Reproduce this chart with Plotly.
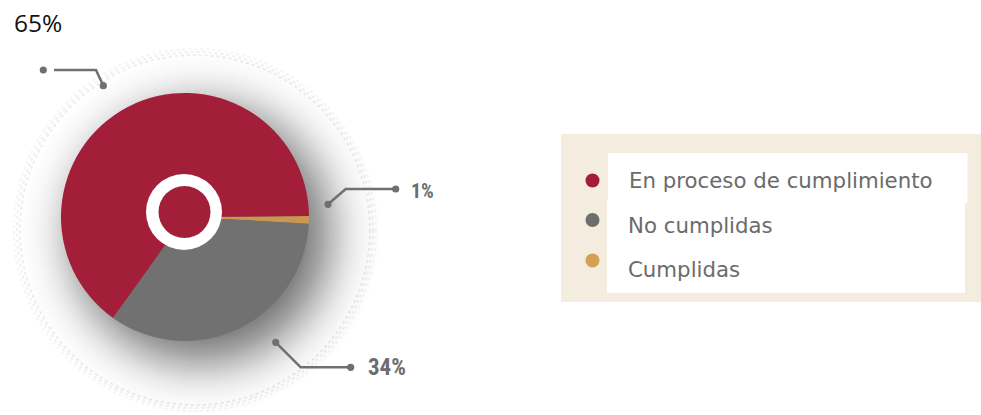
import math
import plotly.graph_objects as go

W, H = 981, 415

# ---- data ----
categories = ["En proceso de cumplimiento", "No cumplidas", "Cumplidas"]
values = [65, 34, 1]
colors = ["#A31F39", "#717171", "#C99750"]
legend_dot_colors = ["#A51C3A", "#6E6E6E", "#D4A052"]


def X(p):
    return p / W


def Y(p):
    return 1 - p / H


def circle(cx, cy, r, fill, layer="above", line=None):
    return dict(type="circle", xref="paper", yref="paper",
                x0=X(cx - r), x1=X(cx + r), y0=Y(cy + r), y1=Y(cy - r),
                fillcolor=fill, layer=layer, line=line or dict(width=0))


def rect(x0, y0, x1, y1, fill, layer="below"):
    return dict(type="rect", xref="paper", yref="paper",
                x0=X(x0), x1=X(x1), y0=Y(y1), y1=Y(y0),
                fillcolor=fill, layer=layer, line=dict(width=0))


def path(pts, color="#707070", width=2.5):
    d = "M " + " L ".join(f"{X(x):.5f},{Y(y):.5f}" for x, y in pts)
    return dict(type="path", xref="paper", yref="paper", path=d,
                line=dict(color=color, width=width), layer="above")


fig = go.Figure()
fig.add_trace(go.Pie(
    labels=categories[::-1], values=values[::-1],
    marker=dict(colors=colors[::-1], line=dict(width=0)),
    sort=False, direction="clockwise", rotation=89.5,
    textinfo="none", hoverinfo="skip", showlegend=False,
    domain=dict(x=[X(61), X(309)], y=[Y(341), Y(93)]),
))

shapes = []
# faint speckled halo
for r, a in [(175, 0.22), (178, 0.18), (181, 0.12)]:
    shapes.append(dict(type="circle", xref="paper", yref="paper",
                       x0=X(195 - r), x1=X(195 + r), y0=Y(230 + r), y1=Y(230 - r),
                       fillcolor="rgba(0,0,0,0)", layer="below",
                       line=dict(color=f"rgba(170,170,170,{a})", width=2, dash="dot")))

# soft drop shadow (blurred disc offset to lower right)
scx, scy, SR, sig, A = 201, 234, 126, 26, 0.55


def target(r):
    return A * 0.5 * (1 + math.erf((SR - r) / (sig * math.sqrt(2))))


radii = [SR + 3 * sig - 2 * k for k in range(int(6 * sig / 2) + 1)]
t_prev = 1.0
for r in radii:
    t = 1 - target(r - 1)
    alpha = max(0.0, 1 - t / t_prev)
    t_prev = t
    shapes.append(circle(scx, scy, r, f"rgba(0,0,0,{alpha:.4f})", layer="below"))

# center ring
shapes.append(circle(184, 212, 38, "white"))
shapes.append(circle(184.5, 212, 26, colors[0]))

# callouts
callouts = [
    dict(dots=[(43.3, 70), (103.3, 85.7)], pts=[(54, 70), (96, 70), (103.3, 85.7)]),
    dict(dots=[(328, 204.3), (395.7, 189)], pts=[(328, 204.3), (345.7, 189), (395.7, 189)]),
    dict(dots=[(275.7, 342.3), (350.7, 367.3)], pts=[(275.7, 342.3), (300.7, 367.3), (350.7, 367.3)]),
]
for c in callouts:
    shapes.append(path(c["pts"]))
    for (x, y) in c["dots"]:
        shapes.append(circle(x, y, 3.6, "#707070"))

# legend box
shapes.append(rect(561, 134, 981, 302, "#F4ECDF"))
shapes.append(rect(607, 200, 965, 293, "white"))
shapes.append(rect(608, 153, 967.5, 203, "white"))
dot_y = [180.5, 220, 260.5]
for col, y in zip(legend_dot_colors, dot_y):
    shapes.append(circle(592.5, y, 7, col))

annotations = []
text_pos = [(627, 180), (626, 225), (626, 269.5)]
for cat, (x, y) in zip(categories, text_pos):
    annotations.append(dict(x=X(x), y=Y(y), xref="paper", yref="paper",
                            xanchor="left", yanchor="middle", showarrow=False,
                            text=cat, font=dict(family="DejaVu Sans", size=21.3, color="#6B6B6B")))

# percentage labels
annotations.append(dict(x=X(12), y=Y(22.5), xref="paper", yref="paper",
                        xanchor="left", yanchor="middle", showarrow=False,
                        text=f"{values[0]}%",
                        font=dict(family="Open Sans", size=24.5, color="#111111")))
annotations.append(dict(x=X(409), y=Y(191.5), xref="paper", yref="paper",
                        xanchor="left", yanchor="middle", showarrow=False,
                        text=f"<b>{values[2]}%</b>",
                        font=dict(family="Liberation Sans Narrow, Roboto Condensed, Roboto, sans-serif",
                                  size=20, color="#6D6D6D")))
annotations.append(dict(x=X(366), y=Y(367.5), xref="paper", yref="paper",
                        xanchor="left", yanchor="middle", showarrow=False,
                        text=f"<b>{values[1]}%</b>",
                        font=dict(family="Liberation Sans Narrow, Roboto Condensed, Roboto, sans-serif",
                                  size=23, color="#6D6D6D")))

fig.update_layout(
    width=W, height=H, margin=dict(l=0, r=0, t=0, b=0),
    paper_bgcolor="white", plot_bgcolor="white",
    shapes=shapes, annotations=annotations, showlegend=False,
    hovermode=False,
)

fig.write_html(
    "out.html",
    config={"displayModeBar": False},
    post_script="document.body.style.margin='0';document.body.style.overflow='hidden';",
)
